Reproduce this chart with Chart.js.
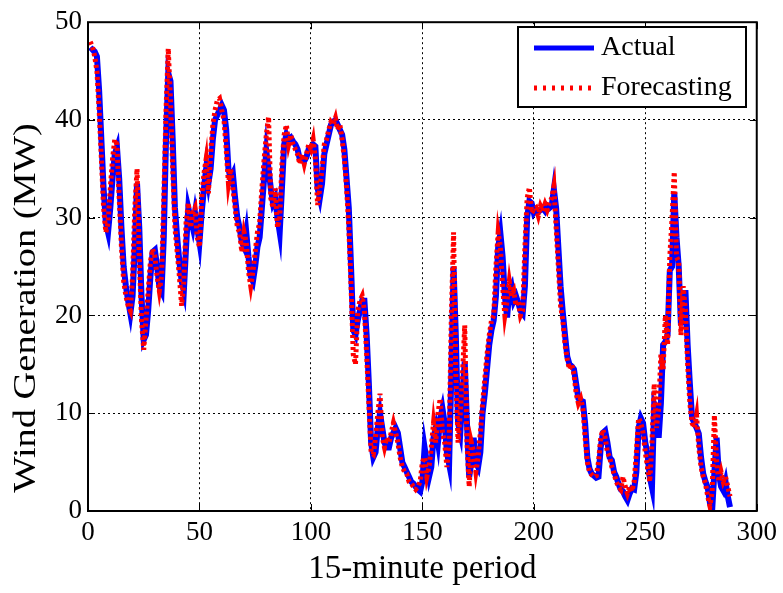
<!DOCTYPE html>
<html lang="en">
<head>
  <meta charset="UTF-8">
  <title>Wind Generation Forecast</title>
  <script src="https://cdn.jsdelivr.net/npm/chart.js"></script>
  <style>
    html, body { margin: 0; padding: 0; background: #fff; }
    #wrap { width: 783px; height: 593px; }
  </style>
</head>
<body>
  <div id="wrap"><canvas id="chart"></canvas></div>

  <script>
    // 15-minute periods, one value per period (MW)
    const actual = [
      47, 47.2, 47, 46.5, 43, 38, 33, 29.5, 28.5, 31,
      34, 36.5, 37.2, 34, 29, 25, 23, 21.5, 20.2, 22,
      27, 33.5, 29, 22, 17.5, 18, 20.5, 24, 26.5, 26.7,
      25, 23, 22.5, 28, 38, 44.8, 44, 38, 31, 28,
      25.5, 23.5, 22.5, 27, 31, 30, 29, 30.5, 29, 27.5,
      30.5, 33, 35, 33.5, 35, 38, 40, 40.5, 41, 41.5,
      41, 39, 35, 34, 34.5, 32, 30, 29, 27.5, 27,
      28.5, 26, 24, 23.5, 25, 27, 28, 31, 34, 36.8,
      35, 33, 31.5, 32, 30, 28.5, 33, 37.5, 38.5, 38,
      38.2, 37.8, 37.5, 37, 36, 36, 35.8, 36.2, 37, 37.2,
      37.5, 37.3, 33, 32, 33.5, 36.5, 37.5, 38.5, 39.5, 39.8,
      40, 39.5, 39, 38.5, 37, 34, 31, 25, 18.5, 18,
      19.5, 20.5, 21.5, 21.5, 18, 13, 7, 5.5, 6, 8.5,
      10, 8.5, 7, 6.5, 6.5, 7.5, 8, 8.5, 8, 6.5,
      5, 4.5, 4, 3.5, 3, 2.8, 2.5, 2.2, 2, 3,
      6.5, 5, 3.5, 4.5, 7.5, 8.5, 7, 9.5, 10.5, 9,
      6, 4.8, 14, 25, 18, 9, 8, 12, 15.3, 9,
      3.5, 5, 7.5, 5, 4.5, 6, 10, 12, 14.5, 17,
      18.5, 19.5, 22, 27, 28.4, 26, 22, 19.8, 22.5, 23,
      21.5, 22, 21.3, 20.5, 20.2, 23, 30, 31.7, 31.5, 30.5,
      30.8, 30.6, 30.8, 31, 30.7, 31.2, 31, 31.2, 32.9, 31,
      27, 23, 20.3, 18, 15.8, 15, 14.8, 14.5, 13, 11.5,
      11.3, 11.2, 9, 5.5, 4.3, 3.8, 3.6, 3.4, 3.5, 6.5,
      8, 8.2, 7, 5.5, 5.2, 4, 3.5, 2.8, 2.2, 2,
      1.5, 1.1, 1.8, 2.3, 2.2, 4, 8.5, 9.5, 9, 7,
      5.8, 3.5, 2.4, 11, 10.5, 7.5, 11, 17, 17.3, 18,
      24.6, 25, 32.6, 28, 25, 19, 21, 22.6, 17, 13,
      9.5, 9, 8.5, 7.9, 5.5, 3.8, 3, 2.4, 0.8, 0.1,
      4, 7.5, 3.8, 2.5, 2.1, 3, 1.5, 0.4
    ];

    const forecast = [
      48, 47.5, 46.5, 45, 41, 36, 31, 28.5, 29.5, 33,
      36, 38, 37.5, 32, 27, 23.5, 22, 21, 20.5, 24,
      31, 35, 26, 19.5, 16.5, 19.5, 22.5, 25.5, 26.8, 26,
      24, 22.5, 24, 32, 41, 47.3, 42, 35, 29, 26.5,
      24, 21, 23.5, 29.5, 31.5, 29, 30.5, 31, 28, 27,
      32, 34.5, 36, 32.5, 36.5, 39.5, 41, 42, 42.2, 41,
      40, 37, 33.5, 35, 33, 31, 29, 28.5, 26.5, 28.5,
      27.5, 24.5, 23, 24.5, 26.5, 28.5, 29.5, 33, 36, 38.5,
      40.3, 32, 31, 33, 29, 30, 35.5, 38.5, 39.5, 37.5,
      38.5, 37.5, 37, 36.5, 35.5, 36.5, 35.5, 36.5, 37.5, 37,
      38, 36, 31.3, 33, 35, 37.5, 38, 39, 39.8, 39.5,
      40.2, 39, 39.5, 38, 36, 33, 29, 23, 16, 15,
      20.5, 21.5, 22, 20.5, 16, 11, 6, 5.8, 7.5, 10,
      12, 7.5, 6.5, 7.5, 7, 8, 9, 8, 7, 5.5,
      4.5, 4, 3.8, 3, 2.8, 2.5, 2.2, 2.5, 3, 5,
      5.5, 3.5, 4.5, 6.5, 9, 7, 10, 11.5, 8, 7,
      4.5, 7, 20, 28.5, 14, 7, 10, 14, 19, 7,
      2.5, 7, 6, 4, 5.5, 8, 11, 13.5, 16, 18,
      19.5, 20, 25, 28.5, 27, 23, 20, 21.5, 23.5, 22,
      22.5, 21, 21.5, 20, 20.5, 27, 32, 33.1, 30.5, 30.8,
      31, 30.2, 31.2, 30.7, 31.4, 30.8, 31.5, 32, 33.2, 29,
      25, 21, 19.5, 17, 15.5, 14.5, 15, 14, 12, 11,
      11.5, 10.5, 7.5, 5, 4, 3.7, 3.5, 3.6, 5, 7.5,
      8.3, 7.5, 6, 5.5, 4.5, 3.8, 3, 2.5, 2.2, 3.5,
      2.5, 1.8, 2.5, 2, 3, 6, 9.5, 9, 8, 6,
      4.5, 3, 7, 13, 8.5, 10.5, 16, 14.5, 20, 17,
      26, 30, 34.7, 26, 25.5, 18, 23, 20.5, 15, 11,
      9, 8.5, 9.8, 6.5, 4.5, 3.5, 2.8, 1.5, 0.5, 2,
      9.8, 5, 3, 4, 3, 3.5, 2.5, 1.5
    ];

    const xTicks = [0, 50, 100, 150, 200, 250, 300];
    const yTicks = [0, 10, 20, 30, 40, 50];
    const seriesNames = ['Actual', 'Forecasting'];

    const serif = "'Liberation Serif', 'Times New Roman', serif";

    // period numbers start at 1 like a plain MATLAB plot
    const toPoints = arr => arr.map((v, i) => ({ x: i + 1, y: v }));

    function line(ctx, x1, y1, x2, y2) {
      ctx.beginPath(); ctx.moveTo(x1, y1); ctx.lineTo(x2, y2); ctx.stroke();
    }

    // box, inward ticks, y label and legend drawn over the plot
    const decor = {
      id: 'decor',
      afterDraw(chart) {
        const { ctx, chartArea: a, scales: { x, y } } = chart;
        ctx.save();
        ctx.strokeStyle = '#000';
        ctx.lineWidth = 1;
        xTicks.forEach(v => {
          const px = Math.round(x.getPixelForValue(v)) + 0.5;
          line(ctx, px, a.bottom, px, a.bottom - 7);
          line(ctx, px, a.top, px, a.top + 7);
        });
        yTicks.forEach(v => {
          const py = Math.round(y.getPixelForValue(v)) + 0.5;
          line(ctx, a.left, py, a.left + 7, py);
          line(ctx, a.right, py, a.right - 7, py);
        });
        ctx.lineWidth = 2;
        ctx.strokeRect(a.left, a.top, a.right - a.left, a.bottom - a.top);

        // y axis label, a bit below the axis centre and stretched like the original
        ctx.fillStyle = '#000';
        ctx.font = '32px ' + serif;
        ctx.textAlign = 'center';
        ctx.textBaseline = 'middle';
        ctx.save();
        ctx.translate(27, 308);
        ctx.rotate(-Math.PI / 2);
        ctx.scale(1.2, 1);
        ctx.fillText('Wind Generation (MW)', 0, 0);
        ctx.restore();

        // legend
        const lx = 518, ly = 27, lw = 228, lh = 80;
        ctx.fillStyle = '#fff';
        ctx.fillRect(lx, ly, lw, lh);
        ctx.lineWidth = 2;
        ctx.strokeStyle = '#000';
        ctx.strokeRect(lx, ly, lw, lh);

        ctx.lineWidth = 5;
        ctx.strokeStyle = '#0000ff';
        line(ctx, 534, 48, 594, 48);
        ctx.strokeStyle = '#ff0000';
        ctx.setLineDash([3, 6]);
        line(ctx, 534, 88, 594, 88);
        ctx.setLineDash([]);

        ctx.fillStyle = '#000';
        ctx.font = '28px ' + serif;
        ctx.textAlign = 'left';
        ctx.fillText(seriesNames[0], 601, 48);
        ctx.fillText(seriesNames[1], 601, 88);
        ctx.restore();
      }
    };

    const ctx = document.getElementById('chart').getContext('2d');
    new Chart(ctx, {
      type: 'line',
      data: {
        datasets: [
          {
            label: seriesNames[0],
            data: toPoints(actual),
            borderColor: '#0000ff',
            borderWidth: 6,
            pointRadius: 0,
            tension: 0,
            order: 2
          },
          {
            label: seriesNames[1],
            data: toPoints(forecast),
            borderColor: '#ff0000',
            borderWidth: 5,
            borderDash: [3, 3],
            borderCapStyle: 'butt',
            pointRadius: 0,
            tension: 0,
            order: 1
          }
        ]
      },
      options: {
        responsive: true,
        maintainAspectRatio: false,
        animation: false,
        layout: { padding: { left: 0, right: 26, top: 16, bottom: 0 } },
        plugins: { legend: { display: false }, tooltip: { enabled: false } },
        scales: {
          x: {
            type: 'linear',
            min: 0, max: 300,
            afterBuildTicks: s => { s.ticks = xTicks.map(v => ({ value: v })); },
            afterFit: s => { s.height = 82; },
            ticks: { color: '#000', font: { family: serif, size: 27 }, padding: 6, maxRotation: 0 },
            grid: { color: '#000', lineWidth: 1, drawTicks: false },
            border: { display: false, dash: [2, 3] },
            title: { display: true, text: '15-minute period', color: '#000', font: { family: serif, size: 33 }, padding: { top: 0, bottom: 4 } }
          },
          y: {
            min: 0, max: 50,
            afterBuildTicks: s => { s.ticks = yTicks.map(v => ({ value: v })); },
            afterFit: s => { s.width = 88; },
            ticks: { color: '#000', font: { family: serif, size: 27 }, padding: 6 },
            grid: { color: '#000', lineWidth: 1, drawTicks: false },
            border: { display: false, dash: [2, 3] }
          }
        }
      },
      plugins: [decor]
    });
  </script>
</body>
</html>
